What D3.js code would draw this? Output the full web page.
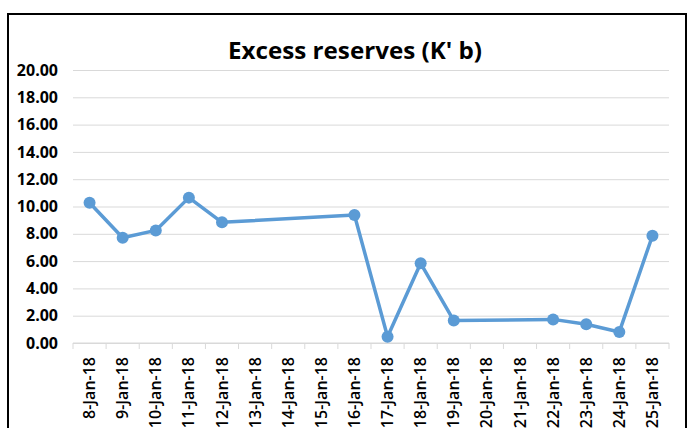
<!DOCTYPE html>
<html>
<head>
<meta charset="utf-8">
<script src="https://cdn.jsdelivr.net/npm/d3@7"></script>
<style>
  body { margin: 0; background: #fff; }
  svg { display: block; }
</style>
</head>
<body>
<div id="chart"></div>
<script>
// Chart data
var dates = ["8-Jan-18", "9-Jan-18", "10-Jan-18", "11-Jan-18", "12-Jan-18", "13-Jan-18",
             "14-Jan-18", "15-Jan-18", "16-Jan-18", "17-Jan-18", "18-Jan-18", "19-Jan-18",
             "20-Jan-18", "21-Jan-18", "22-Jan-18", "23-Jan-18", "24-Jan-18", "25-Jan-18"];
var reserves = [10.28, 7.71, 8.25, 10.65, 8.84, null,
                null, null, 9.38, 0.46, 5.84, 1.64,
                null, null, 1.73, 1.37, 0.81, 7.86];
var yTicks = [0, 2, 4, 6, 8, 10, 12, 14, 16, 18, 20];

const width = 691;
const height = 428;
var margin = {top: 70, right: 22, bottom: 85, left: 73};
var plotWidth = 669 - margin.left;
var plotHeight = 343 - margin.top;

var svg = d3.select("#chart")
            .append("svg")
                .attr("width", width)
                .attr("height", height);

// Outer chart frame
svg.append("rect")
    .attr("x", 8)
    .attr("y", 14)
    .attr("width", 678)
    .attr("height", 440)
    .attr("fill", "none")
    .attr("stroke", "#000")
    .attr("stroke-width", 2);

// Title
svg.append("text")
    .attr("x", 355)
    .attr("y", 59)
    .attr("text-anchor", "middle")
    .style("font-family", "'Open Sans', sans-serif")
    .style("font-weight", "bold")
    .style("font-size", "23px")
    .attr("textLength", 254)
    .attr("lengthAdjust", "spacingAndGlyphs")
    .text("Excess reserves (K' b)");

var g = svg.append("g")
            .attr("transform", "translate(" + margin.left + "," + margin.top + ")");

var scaleX = d3.scaleBand()
                .domain(dates)
                .range([0, plotWidth]);

var scaleY = d3.scaleLinear()
                .domain([0, 20])
                .range([plotHeight, 0]);

// Gridlines + y labels
var axisY = g.append("g")
    .call(d3.axisLeft(scaleY)
            .tickValues(yTicks)
            .tickSize(-plotWidth)
            .tickPadding(15)
            .tickFormat(d3.format(".2f")));
axisY.select(".domain").remove();
axisY.selectAll("line")
    .attr("stroke", "#d9d9d9")
    .attr("stroke-width", 1);
axisY.selectAll("text")
    .style("font-family", "'Open Sans', sans-serif")
    .style("font-weight", "bold")
    .style("font-size", "16px")
    .attr("fill", "#000");

// X axis with category boundary ticks
var axisX = g.append("g")
    .attr("transform", "translate(0," + plotHeight + ")");
axisX.append("line")
    .attr("x1", 0).attr("x2", plotWidth)
    .attr("stroke", "#d9d9d9");
axisX.selectAll("line.tick")
    .data(dates.concat(["end"]))
    .enter()
    .append("line")
        .attr("class", "tick")
        .attr("x1", function(d, i) { return i * scaleX.step(); })
        .attr("x2", function(d, i) { return i * scaleX.step(); })
        .attr("y1", 0)
        .attr("y2", 6)
        .attr("stroke", "#d9d9d9");
axisX.selectAll("text")
    .data(dates)
    .enter()
    .append("text")
        .attr("transform", function(d) {
            return "translate(" + (scaleX(d) + scaleX.bandwidth() / 2 + 5.5) + ",14) rotate(-90)";
        })
        .attr("text-anchor", "end")
        .style("font-family", "'Open Sans', sans-serif")
        .style("font-size", "16px")
        .style("font-weight", "600")
        .text(function(d) { return d; });

// Line series (gaps are bridged)
var points = dates.map(function(d, i) { return {date: d, value: reserves[i]}; })
                  .filter(function(d) { return d.value !== null; });

var line = d3.line()
    .x(function(d) { return scaleX(d.date) + scaleX.bandwidth() / 2; })
    .y(function(d) { return scaleY(d.value); });

g.append("path")
    .datum(points)
    .attr("d", line)
    .attr("fill", "none")
    .attr("stroke", "#5b9bd5")
    .attr("stroke-width", 3.5)
    .attr("stroke-linejoin", "round");

g.selectAll("circle")
    .data(points)
    .enter()
    .append("circle")
        .attr("cx", function(d) { return scaleX(d.date) + scaleX.bandwidth() / 2; })
        .attr("cy", function(d) { return scaleY(d.value); })
        .attr("r", 6)
        .attr("fill", "#5b9bd5");
</script>
</body>
</html>
